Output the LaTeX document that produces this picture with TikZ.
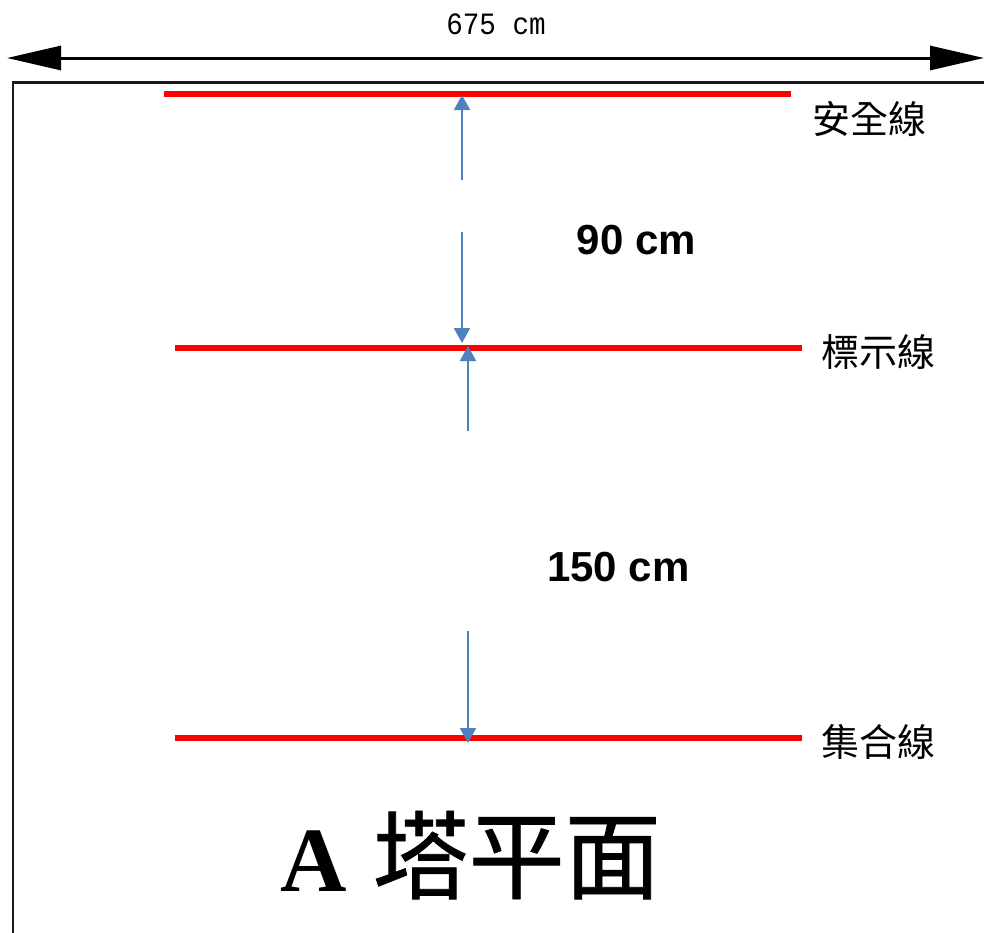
\documentclass[tikz,border=0pt]{standalone}
\usepackage{fontspec}
\setmainfont{Liberation Sans}
\newfontfamily\cjk{Noto Sans CJK TC}
\newfontfamily\cjktitle[FakeBold=0.8]{Noto Sans CJK TC}
\newfontfamily\serifb{Liberation Serif}
\newfontfamily\narrowf[FakeStretch=0.89]{Liberation Mono}
\usetikzlibrary{arrows.meta}
\definecolor{dimblue}{HTML}{4F81BD}
\tikzset{
  redline/.style={draw=red,line width=6pt},
  bluearrow/.style={draw=dimblue,line width=2pt,-{Triangle[length=15pt,width=16pt]}},
  blackarrow/.style={draw=black,line width=3pt,{Triangle[length=54pt,width=24pt]}-{Triangle[length=54pt,width=24pt]}},
  linelabel/.style={font=\cjk\fontsize{38}{38}\selectfont,inner sep=0pt,anchor=center},
  dimlabel/.style={font=\bfseries\fontsize{42}{42}\selectfont,inner sep=0pt,anchor=center}
}
\begin{document}
\begin{tikzpicture}[x=1pt,y=-1pt]
\useasboundingbox (0,0) rectangle (984,932);
\clip (0,0) rectangle (984,932);
% frame
\draw[line width=2.4pt,color=black!90] (13,940) -- (13,82.5) -- (990,82.5);
% overall dimension
\coordinate (dimL) at (7,58);
\coordinate (dimR) at (984,58);
\draw[blackarrow] (dimL) -- (dimR);
\node[font=\narrowf\fontsize{31}{31}\selectfont,inner sep=0pt] (width) at (496,24) {675 cm};
% red lines
\coordinate (s1) at (164,93.5);
\coordinate (s2) at (791,93.5);
\coordinate (m1) at (175,347.5);
\coordinate (m2) at (802,347.5);
\coordinate (g1) at (175,737.5);
\coordinate (g2) at (802,737.5);
\draw[redline] (s1) -- (s2);
\draw[redline] (m1) -- (m2);
\draw[redline] (g1) -- (g2);
% blue arrows
\coordinate (a1) at (462,180);
\coordinate (a1t) at (462,95);
\coordinate (a2) at (462,232);
\coordinate (a2t) at (462,343);
\coordinate (a3) at (468,431);
\coordinate (a3t) at (468,346);
\coordinate (a4) at (468,631);
\coordinate (a4t) at (468,743);
\draw[bluearrow] (a1) -- (a1t);
\draw[bluearrow] (a2) -- (a2t);
\draw[bluearrow] (a3) -- (a3t);
\draw[bluearrow] (a4) -- (a4t);
% labels
\node[linelabel] (safe) at (869,119) {安全線};
\node[linelabel] (mark) at (878,352) {標示線};
\node[linelabel] (assy) at (878,742) {集合線};
\node[dimlabel] (d90) at (636.5,240) {90 cm};
\node[dimlabel] (d150) at (618.5,567) {150 cm};
\node[inner sep=0pt] (title) at (470.5,855) {\serifb\bfseries\fontsize{92}{92}\selectfont A\hspace{26pt}{\mdseries\cjktitle\fontsize{96}{96}\selectfont 塔平面}};
\end{tikzpicture}
\end{document}
